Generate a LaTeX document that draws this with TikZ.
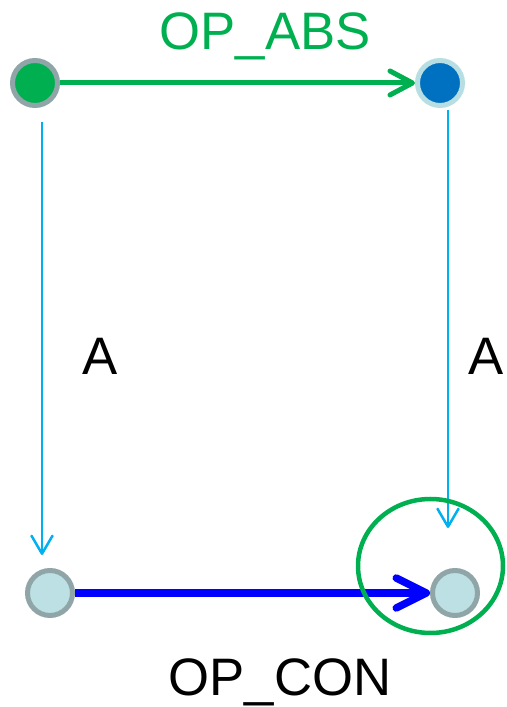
\documentclass[tikz,border=0pt]{standalone}
\usepackage{fontspec}
\setmainfont{Liberation Sans}
\usetikzlibrary{arrows.meta}

\definecolor{opgreen}{HTML}{00B050}
\definecolor{opblue}{HTML}{0070C0}
\definecolor{ringgrey}{HTML}{8FA5A8}
\definecolor{ringpale}{HTML}{B7DEE3}
\definecolor{statefill}{HTML}{BCE0E3}
\definecolor{mapcyan}{HTML}{00B0F0}

\tikzset{
  state/.style={circle,draw=ringgrey,line width=0.1cm,fill=statefill,
    minimum size=0.9cm,inner sep=0pt},
  lbl/.style={anchor=base,font=\fontsize{30}{36}\selectfont},
  mapto/.style={draw=mapcyan,line width=0.05cm,
    -{Straight Barb[length=0.36cm,width=0.42cm,round]}}
}

\begin{document}
\begin{tikzpicture}
  \useasboundingbox (0,0) rectangle (10.12,14.14);

  % the four states
  \node[state,fill=opgreen] (absL) at (0.70,12.48) {};
  \node[state,draw=ringpale,fill=opblue] (absR) at (8.80,12.48) {};
  \node[state] (conL) at (1.00,2.28) {};
  \node[state] (conR) at (9.10,2.28) {};

  % ends of the A maps
  \coordinate (aLtop) at (0.84,11.70);
  \coordinate (aLbot) at (0.84,3.04);
  \coordinate (aRtop) at (8.96,11.94);
  \coordinate (aRbot) at (8.96,3.58);

  \draw[opgreen,line width=0.1cm,
    -{Straight Barb[length=0.45cm,width=0.48cm,round]}] (absL) -- (absR);
  \draw[blue,line width=0.15cm,
    -{Straight Barb[length=0.6cm,width=0.6cm,round]}] (conL) -- (conR);
  \draw[mapto] (aLtop) -- (aLbot);
  \draw[mapto] (aRtop) -- (aRbot);

  \draw[opgreen,line width=0.09cm] (8.61,2.82) ellipse (1.45cm and 1.34cm);

  \node[lbl,text=opgreen] (opabs) at (5.30,13.14) {OP\_ABS};
  \node[lbl] (opcon) at (5.60,0.24) {OP\_CON};
  \node[lbl] (aleft) at (2.00,6.64) {A};
  \node[lbl] (aright) at (9.72,6.64) {A};
\end{tikzpicture}
\end{document}
